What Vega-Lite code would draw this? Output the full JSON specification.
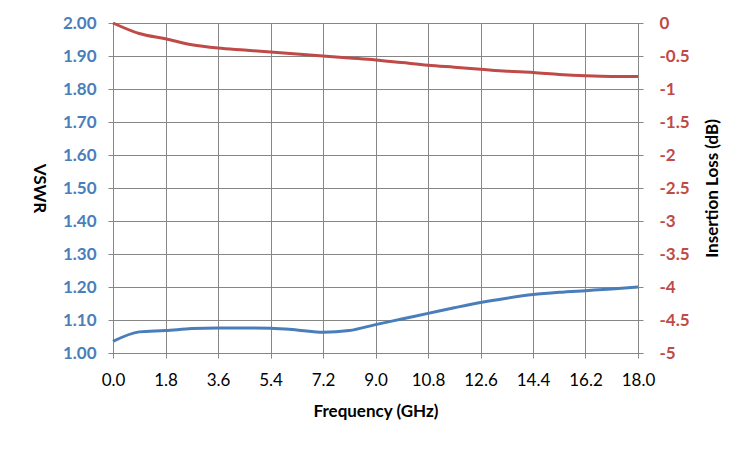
{
  "$schema": "https://vega.github.io/schema/vega-lite/v6.json",
  "width": 525,
  "height": 330,
  "autosize": {"type": "none"},
  "padding": {"left": 113, "top": 23, "right": 112, "bottom": 97},
  "background": "white",
  "data": {
    "values": [
      {"freq": 0.0, "vswr": 1.035, "loss": 0.0},
      {"freq": 0.9, "vswr": 1.064, "loss": -0.16},
      {"freq": 1.8, "vswr": 1.068, "loss": -0.24},
      {"freq": 2.7, "vswr": 1.074, "loss": -0.33},
      {"freq": 3.6, "vswr": 1.076, "loss": -0.38},
      {"freq": 4.5, "vswr": 1.076, "loss": -0.41},
      {"freq": 5.4, "vswr": 1.075, "loss": -0.44},
      {"freq": 6.3, "vswr": 1.07, "loss": -0.47},
      {"freq": 7.2, "vswr": 1.063, "loss": -0.5},
      {"freq": 8.1, "vswr": 1.068, "loss": -0.53},
      {"freq": 9.0, "vswr": 1.086, "loss": -0.56},
      {"freq": 9.9, "vswr": 1.103, "loss": -0.6},
      {"freq": 10.8, "vswr": 1.12, "loss": -0.64},
      {"freq": 11.7, "vswr": 1.137, "loss": -0.67},
      {"freq": 12.6, "vswr": 1.153, "loss": -0.7},
      {"freq": 13.5, "vswr": 1.166, "loss": -0.73},
      {"freq": 14.4, "vswr": 1.177, "loss": -0.75},
      {"freq": 15.3, "vswr": 1.184, "loss": -0.78},
      {"freq": 16.2, "vswr": 1.189, "loss": -0.8},
      {"freq": 17.1, "vswr": 1.194, "loss": -0.81},
      {"freq": 18.0, "vswr": 1.2, "loss": -0.81}
    ]
  },
  "encoding": {
    "x": {
      "field": "freq",
      "type": "quantitative",
      "title": "Frequency (GHz)",
      "scale": {"domain": [0, 18], "nice": false, "zero": false},
      "axis": {
        "values": [0, 1.8, 3.6, 5.4, 7.2, 9.0, 10.8, 12.6, 14.4, 16.2, 18.0],
        "format": ".1f",
        "grid": true,
        "labelPadding": 14,
        "titlePadding": 15
      }
    }
  },
  "layer": [
    {
      "mark": {"type": "line", "interpolate": "monotone", "color": "#4a7ebb", "strokeWidth": 3},
      "encoding": {
        "y": {
          "field": "vswr",
          "type": "quantitative",
          "title": "VSWR",
          "scale": {"domain": [1, 2], "nice": false, "zero": false},
          "axis": {
            "orient": "left",
            "values": [1.0, 1.1, 1.2, 1.3, 1.4, 1.5, 1.6, 1.7, 1.8, 1.9, 2.0],
            "format": ".2f",
            "grid": true,
            "labelColor": "#4a7ebb",
            "labelFontWeight": "bold",
            "labelPadding": 12,
            "titleAngle": 90,
            "titleBaseline": "top",
            "titlePadding": 16
          }
        }
      }
    },
    {
      "mark": {"type": "line", "interpolate": "monotone", "color": "#be4b48", "strokeWidth": 3},
      "encoding": {
        "y": {
          "field": "loss",
          "type": "quantitative",
          "title": "Insertion Loss (dB)",
          "scale": {"domain": [-5, 0], "nice": false, "zero": false},
          "axis": {
            "orient": "right",
            "values": [0, -0.5, -1, -1.5, -2, -2.5, -3, -3.5, -4, -4.5, -5],
            "labelExpr": "'' + datum.value",
            "grid": false,
            "labelColor": "#be4b48",
            "labelFontWeight": "bold",
            "labelPadding": 16,
            "titleAngle": 270,
            "titleBaseline": "top",
            "titlePadding": 15
          }
        }
      }
    }
  ],
  "resolve": {"scale": {"y": "independent"}},
  "config": {
    "font": "Lato",
    "view": {"stroke": null},
    "axis": {
      "domainColor": "#868686",
      "tickColor": "#868686",
      "gridColor": "#868686",
      "gridOpacity": 1,
      "tickSize": 5,
      "labelFlush": false,
      "labelOverlap": false,
      "labelFontSize": 17,
      "labelColor": "#000000",
      "labelFont": "Lato",
      "titleFont": "Lato",
      "titleFontSize": 17,
      "titleFontWeight": "bold",
      "titleColor": "#000000"
    }
  }
}
